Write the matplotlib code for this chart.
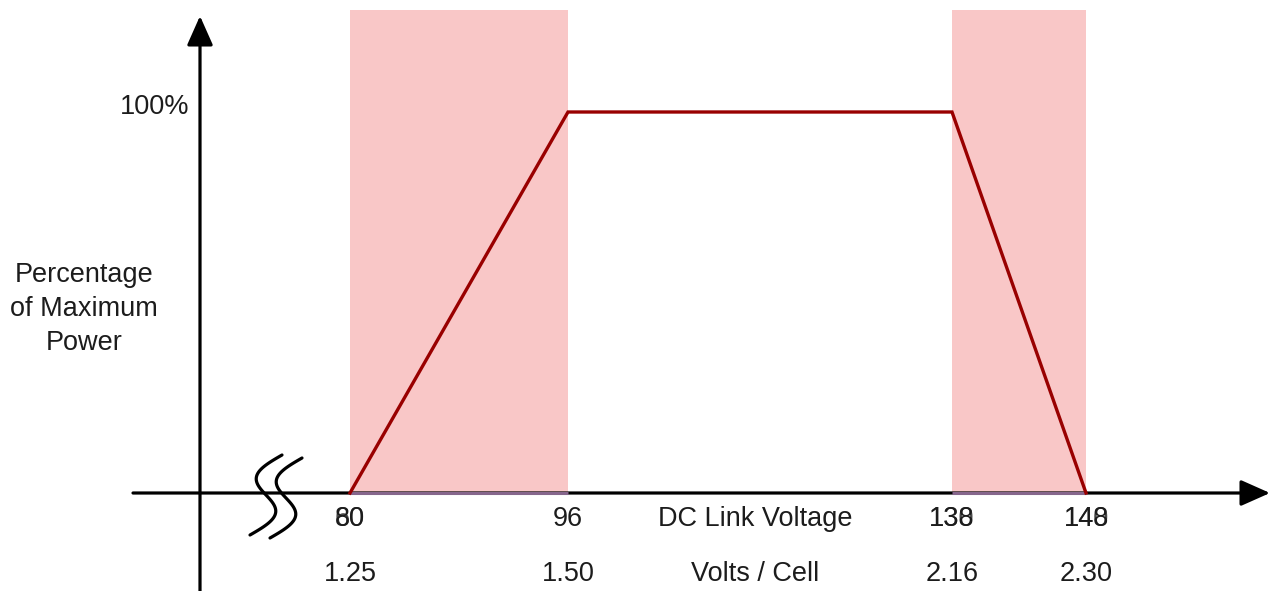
import numpy as np
import matplotlib
matplotlib.use("Agg")
import matplotlib.pyplot as plt
from matplotlib.patches import FancyArrowPatch

# ---- data ----
dc_voltage = [80, 96, 138, 148]            # DC link voltage breakpoints
power_pct = [0, 100, 100, 0]               # percentage of maximum power
volt_labels = ["80", "96", "138", "148"]
volt_ghost = ["60", "", "130", "140"]      # overprinted glyphs seen in the original
cell_labels = ["1.25", "1.50", "2.16", "2.30"]
shaded_ranges = [(80, 96), (138, 148)]
y_tick_value = 100
y_tick_label = "100%"

# ---- schematic (non-linear) x scale: volts -> figure pixels ----
_V = np.array([0, 80, 96, 138, 148, 300], dtype=float)
_P = np.array([350 - 80 * 13.6, 350, 568, 952, 1086, 1086 + 152 * 13.4])

def fwd(v):
    return np.interp(np.asarray(v, dtype=float), _V, _P)

def inv(p):
    return np.interp(np.asarray(p, dtype=float), _P, _V)

W, H = 1283, 591
fig = plt.figure(figsize=(W / 100, H / 100), dpi=100)
ax = fig.add_axes([0, 0, 1, 1])
ax.set_xscale('function', functions=(fwd, inv))
ax.set_xlim(float(inv(0)), float(inv(W)))
px_per_pct = (493 - 112) / 100.0
ax.set_ylim(-(H - 493) / px_per_pct, 100 + 112 / px_per_pct)
ax.axis('off')

plt.rcParams['font.family'] = ['Liberation Sans', 'DejaVu Sans']
FS = 19.5
TC = '#1c1c1c'

top_shade = 100 + (112 - 10) / px_per_pct
for a, b in shaded_ranges:
    ax.fill_between([a, b], 0, top_shade, color='#F9C7C7', lw=0, zorder=1)

# axes with arrows (figure-fraction coordinates)
def fx(px):
    return px / W

def fy(py):
    return 1 - py / H

ax.add_patch(FancyArrowPatch((fx(133), fy(493)), (fx(1270), fy(493)),
                             transform=ax.transAxes,
                             arrowstyle='-|>,head_length=0.9,head_width=0.4',
                             mutation_scale=20, lw=2.3, color='black',
                             shrinkA=0, shrinkB=0, zorder=3))
ax.add_patch(FancyArrowPatch((fx(200), fy(595)), (fx(200), fy(16)),
                             transform=ax.transAxes,
                             arrowstyle='-|>,head_length=0.9,head_width=0.4',
                             mutation_scale=20, lw=2.3, color='black',
                             shrinkA=0, shrinkB=0, zorder=3))

# purple base line in the shaded zones
for a, b in shaded_ranges:
    ax.plot([a, b], [0, 0], color='#86668c', lw=2.2, zorder=4,
            solid_capstyle='butt')

# power curve
ax.plot(dc_voltage, power_pct, color='#990000', lw=2.4, zorder=5,
        solid_joinstyle='miter')

# axis break symbol
t = np.linspace(0, 1, 100)
for dx, dy in [(0, 0), (20, 3)]:
    xs = 266 + dx + 32 * (0.5 - t) - 17 * np.sin(2 * np.pi * t)
    ys = 455 + dy + 80 * t
    ax.plot(xs / W, 1 - ys / H, transform=ax.transAxes, color='black',
            lw=2.3, zorder=6, solid_capstyle='round')

# labels
tr = ax.get_xaxis_transform()
for v, lab, gh, cl in zip(dc_voltage, volt_labels, volt_ghost, cell_labels):
    if gh:
        ax.text(v, fy(519), gh, transform=tr, ha='center', va='center',
                fontsize=FS, color=TC, alpha=0.8)
    ax.text(v, fy(519), lab, transform=tr, ha='center', va='center',
            fontsize=FS, color=TC)
    ax.text(v, fy(574), cl, transform=tr, ha='center', va='center',
            fontsize=FS, color=TC)

ax.text(fx(755), fy(519), "DC Link Voltage", transform=ax.transAxes,
        ha='center', va='center', fontsize=FS, color=TC)
ax.text(fx(755), fy(574), "Volts / Cell", transform=ax.transAxes,
        ha='center', va='center', fontsize=FS, color=TC)

ax.text(fx(189), y_tick_value + (112 - 107) / px_per_pct, y_tick_label,
        transform=ax.get_yaxis_transform(), ha='right', va='center',
        fontsize=FS, color=TC)

ax.text(fx(84), fy(309), "Percentage\nof Maximum\nPower", transform=ax.transAxes,
        ha='center', va='center', fontsize=FS, color=TC, linespacing=1.42,
        multialignment='center')

fig.savefig("out.png", dpi=100, facecolor='white')
